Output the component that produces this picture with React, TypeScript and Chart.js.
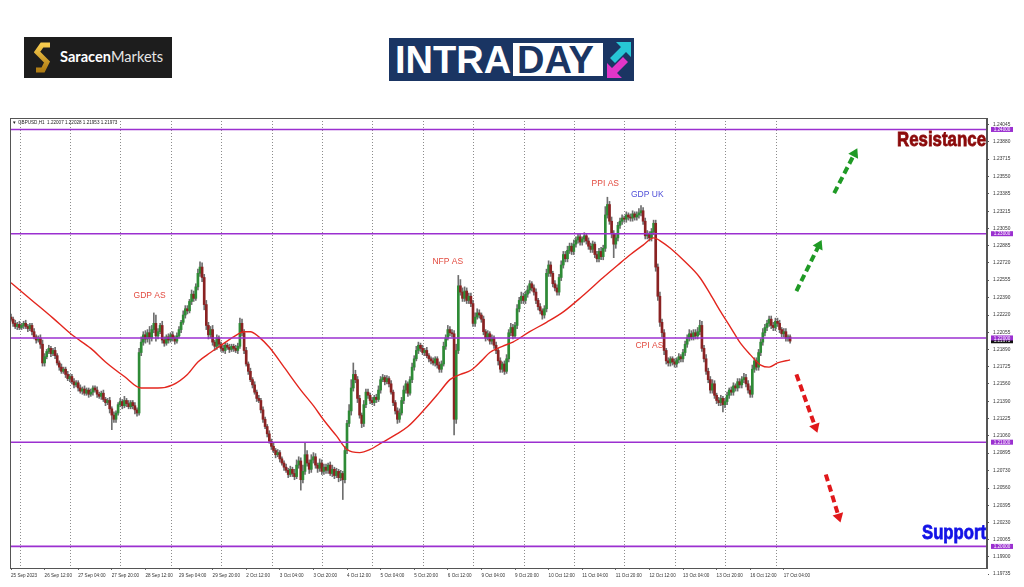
import React, { useEffect, useRef } from "react";
import { Chart, registerables } from "chart.js";
Chart.register(...registerables);

// ---------- DATA ----------
// prices are in pips above 1.2000 (e.g. 215 => 1.2215), H1 bars of GBPUSD
const firstOpen = 220;
const closes = [
  218, 214, 211, 213, 210, 212, 214, 211, 209, 212,
  206, 201, 198, 200, 194, 176, 182, 187, 190, 185,
  188, 183, 176, 172, 168, 170, 165, 161, 163, 158,
  155, 157, 152, 149, 151, 147, 150, 146, 148, 152,
  150, 146, 144, 147, 141, 138, 140, 132, 126, 122,
  128, 136, 139, 135, 140, 137, 134, 138, 135, 131,
  128, 186, 196, 203, 199, 205, 200, 208, 214, 202,
  206, 212, 198, 195, 201, 198, 203, 200, 197, 202,
  208, 215, 222, 228, 226, 235, 242, 238, 249, 262,
  268, 258, 232, 212, 203, 208, 196, 192, 200, 194,
  190, 188, 193, 191, 189, 192, 190, 188, 192, 214,
  205, 188, 175, 168, 160, 155, 148, 142, 140, 131,
  122, 115, 108, 101, 96, 92, 88, 90, 84, 80,
  76, 73, 69, 74, 70, 67, 78, 82, 64, 72,
  88, 80, 74, 83, 86, 78, 75, 80, 72, 76,
  73, 78, 70, 74, 68, 72, 66, 70, 64, 92,
  118, 130, 152, 165, 160, 142, 126, 118, 136, 148,
  145, 140, 138, 143, 141, 150, 160, 162, 158, 161,
  156, 148, 138, 130, 122, 128, 140, 150, 156, 147,
  160, 172, 180, 188, 193, 190, 186, 188, 183, 180,
  178, 176, 180, 174, 170, 175, 192, 200, 208, 205,
  204, 122, 188, 250, 244, 238, 245, 236, 240, 233,
  214, 220, 224, 222, 218, 206, 200, 204, 197, 200,
  193, 188, 178, 170, 175, 168, 180, 205, 210, 202,
  212, 228, 236, 240, 236, 242, 246, 252, 248, 244,
  236, 230, 226, 222, 228, 262, 270, 262, 252, 248,
  244, 258, 270, 280, 276, 284, 288, 283, 290, 294,
  297, 292, 295, 298, 293, 288, 285, 290, 280, 276,
  283, 278, 286, 318, 328, 312, 300, 290, 296, 308,
  312, 315, 314, 318, 316, 315, 319, 316, 318, 320,
  322, 312, 298, 300, 296, 302, 310, 268, 240, 215,
  205, 188, 178, 176, 180, 177, 175, 179, 182, 180,
  186, 194, 200, 204, 201, 205, 202, 206, 212, 190,
  180, 168, 160, 150, 156, 145, 140, 138, 142, 136,
  139, 145, 150, 148, 154, 152, 158, 155, 160, 162,
  156, 150, 146, 170, 178, 172, 186, 196, 205, 210,
  214, 218, 212, 210, 216, 214, 208, 204, 206, 200,
  201, 197,
];
const wickUp = [
  3, 2, 3, 2, 3, 2, 2, 3, 2, 2,
  2, 3, 2, 2, 3, 4, 3, 2, 3, 2,
  2, 3, 2, 2, 3, 2, 2, 3, 2, 2,
  3, 2, 2, 3, 2, 3, 2, 2, 3, 2,
  2, 3, 2, 2, 3, 2, 2, 3, 2, 3,
  2, 2, 3, 2, 4, 2, 3, 2, 2, 3,
  2, 4, 5, 3, 4, 3, 6, 4, 10, 8,
  3, 2, 4, 3, 2, 3, 2, 3, 2, 3,
  3, 2, 4, 3, 3, 2, 4, 3, 3, 4,
  5, 4, 3, 4, 3, 3, 4, 2, 3, 2,
  2, 3, 2, 2, 3, 2, 2, 3, 3, 5,
  4, 3, 3, 2, 3, 2, 3, 2, 3, 2,
  3, 2, 2, 3, 2, 3, 2, 3, 2, 2,
  2, 3, 2, 3, 2, 4, 5, 4, 3, 6,
  11, 4, 3, 5, 4, 3, 2, 4, 3, 3,
  3, 2, 3, 4, 2, 3, 2, 3, 2, 4,
  3, 6, 8, 11, 4, 3, 3, 2, 4, 3,
  3, 2, 3, 2, 3, 4, 3, 3, 2, 3,
  2, 3, 2, 2, 3, 4, 3, 4, 3, 2,
  3, 4, 3, 4, 3, 2, 3, 2, 3, 2,
  2, 3, 2, 2, 3, 3, 4, 3, 4, 3,
  3, 3, 6, 10, 6, 4, 4, 3, 3, 3,
  3, 4, 4, 3, 2, 3, 2, 3, 2, 3,
  2, 3, 2, 3, 2, 3, 4, 3, 4, 3,
  3, 4, 3, 4, 3, 3, 4, 3, 2, 3,
  3, 2, 3, 2, 3, 4, 4, 3, 2, 3,
  3, 3, 4, 3, 3, 4, 3, 3, 4, 3,
  3, 3, 2, 3, 2, 3, 3, 3, 2, 3,
  3, 4, 3, 8, 7, 3, 4, 3, 4, 3,
  3, 3, 2, 3, 2, 3, 3, 2, 3, 4,
  5, 3, 3, 3, 2, 3, 3, 3, 3, 4,
  3, 3, 2, 3, 2, 2, 3, 2, 3, 2,
  3, 3, 3, 4, 3, 3, 3, 4, 5, 4,
  3, 4, 3, 3, 4, 3, 2, 3, 3, 2,
  3, 3, 2, 3, 3, 2, 3, 3, 3, 4,
  3, 3, 4, 4, 3, 3, 3, 3, 4, 3,
  3, 3, 3, 3, 3, 3, 3, 2, 3, 3,
  2, 2,
];
const wickDn = [
  2, 3, 2, 3, 2, 2, 3, 2, 3, 2,
  3, 2, 3, 2, 4, 3, 3, 2, 2, 3,
  2, 3, 2, 3, 2, 2, 3, 2, 3, 2,
  3, 2, 3, 2, 3, 2, 2, 3, 2, 3,
  2, 3, 2, 3, 2, 3, 2, 4, 14, 3,
  3, 2, 2, 3, 2, 3, 2, 2, 3, 4,
  3, 2, 3, 3, 4, 3, 6, 3, 3, 5,
  3, 2, 3, 3, 2, 3, 2, 3, 3, 2,
  2, 3, 2, 3, 3, 2, 3, 3, 2, 3,
  3, 4, 5, 4, 4, 3, 3, 4, 3, 3,
  3, 2, 3, 2, 3, 2, 3, 2, 3, 2,
  3, 3, 2, 3, 2, 3, 2, 3, 2, 3,
  3, 2, 3, 2, 3, 2, 3, 2, 3, 2,
  3, 2, 3, 2, 3, 3, 2, 3, 10, 3,
  3, 3, 4, 3, 3, 3, 4, 3, 3, 3,
  3, 3, 2, 3, 3, 2, 4, 3, 19, 3,
  3, 3, 4, 3, 3, 4, 3, 4, 3, 3,
  3, 3, 2, 3, 3, 2, 3, 2, 3, 2,
  3, 2, 3, 3, 4, 3, 2, 3, 3, 3,
  2, 3, 3, 2, 3, 3, 2, 3, 2, 3,
  3, 2, 3, 3, 3, 3, 2, 3, 2, 3,
  3, 15, 4, 3, 3, 3, 3, 3, 3, 3,
  3, 3, 2, 3, 3, 3, 3, 2, 3, 3,
  3, 3, 4, 3, 3, 3, 2, 3, 3, 3,
  2, 3, 3, 3, 3, 3, 3, 3, 3, 3,
  3, 3, 3, 4, 3, 3, 3, 3, 3, 3,
  3, 3, 3, 3, 3, 3, 3, 3, 3, 3,
  3, 3, 3, 3, 3, 3, 3, 3, 3, 3,
  3, 3, 3, 3, 3, 3, 4, 13, 4, 3,
  3, 3, 3, 3, 3, 3, 3, 3, 3, 3,
  3, 3, 3, 3, 3, 3, 3, 4, 4, 4,
  4, 4, 3, 3, 3, 3, 3, 3, 3, 3,
  3, 3, 3, 3, 3, 3, 3, 3, 3, 3,
  3, 3, 3, 3, 3, 3, 3, 3, 3, 7,
  3, 3, 3, 3, 3, 3, 3, 3, 3, 3,
  3, 3, 3, 3, 3, 3, 3, 3, 3, 3,
  3, 3, 3, 3, 3, 3, 3, 3, 3, 3,
  3, 2,
];
// moving average (bar index, pips above 1.2000)
const maBars = [0, 10, 20, 29, 38, 45, 54, 62, 70, 77, 84, 89, 95, 100, 106, 111, 114, 118, 123, 130, 138, 144, 149, 155, 160, 166, 171, 177, 183, 189, 198, 204, 209, 214, 219, 224, 228, 234, 239, 247, 255, 263, 272, 282, 289, 295, 301, 306, 310, 314, 321, 328, 333, 338, 343, 347, 352, 357, 361, 365, 371];
const maVals = [253, 236, 219, 203, 190, 177, 163, 152, 152, 155, 165, 177, 186, 193, 201, 206, 206, 201, 191, 172, 150, 135, 121, 106, 93, 90, 93, 100, 107, 115, 134, 148, 160, 165, 169, 178, 186, 192, 196, 206, 215, 225, 240, 258, 270, 280, 289, 296, 292, 286, 273, 258, 242, 225, 209, 196, 184, 174, 172, 176, 179];

const levels = [1.24, 1.23, 1.22, 1.21, 1.2];
const levelLabels = ["1.24000", "1.23000", "1.22000", "1.21000", "1.20000"];
const lastPrice = 1.21973;
const lastPriceLabel = "1.21973";
const headerText = "GBPUSD,H1  1.22007 1.22028 1.21953 1.21973";

const yTickLabels = ["1.24045", "1.23880", "1.23715", "1.23550", "1.23385", "1.23215", "1.23050", "1.22885", "1.22720", "1.22555", "1.22390", "1.22220", "1.22055", "1.21890", "1.21725", "1.21560", "1.21390", "1.21225", "1.21060", "1.20895", "1.20730", "1.20560", "1.20395", "1.20230", "1.20065", "1.19900", "1.19735"];
const xTickLabels = ["25 Sep 2023", "26 Sep 12:00", "27 Sep 04:00", "27 Sep 20:00", "28 Sep 12:00", "29 Sep 04:00", "29 Sep 20:00", "2 Oct 12:00", "3 Oct 04:00", "3 Oct 20:00", "4 Oct 12:00", "5 Oct 04:00", "5 Oct 20:00", "6 Oct 12:00", "9 Oct 04:00", "9 Oct 20:00", "10 Oct 12:00", "11 Oct 04:00", "11 Oct 20:00", "12 Oct 12:00", "13 Oct 04:00", "13 Oct 20:00", "16 Oct 12:00", "17 Oct 04:00"];
const barsPerLabel = 16;
const firstDayBar = 4.3;
const barsPerDay = 24;
const dayLines = 16;

const eventNames = ["GDP AS", "NFP AS", "PPI AS", "GDP UK", "CPI AS"];
const eventBars = [66, 208, 283, 303, 304];
const eventPrices = [1.2241, 1.2273, 1.2348, 1.2337, 1.2193];

const arrowFromBars = [392, 374, 374, 388];
const arrowFromPrices = [1.2339, 1.2245, 1.2165, 1.2069];
const arrowToBars = [403, 386, 384, 395];
const arrowToPrices = [1.2382, 1.2294, 1.2109, 1.2023];
const arrowUp = [true, true, false, false];

const zoneNames = ["Resistance", "Support"];
const zonePrices = [1.239, 1.2013];

// axis ranges
const xMin = -0.48;
const xMax = 464.76;
const yMin = 1.19793;
const yMax = 1.2411;

// ---------- STYLE ----------
const BULL = "#2e8b36";
const BEAR = "#8a2222";
const WICK = "#6e6e6e";
const LEVEL = "#9b30d0";
const MA = "#e3261e";
const eventColors = ["#e24a3f", "#e24a3f", "#e24a3f", "#4f4fd8", "#e24a3f"];
const zoneColors = ["#8b0a0a", "#1212e6"];
const zoneWidths = [89, 64];
const FONT = '"Liberation Sans", Arial, sans-serif';

const P = (v: number) => 1.2 + v / 10000;
const opens = closes.map((c, i) => (i === 0 ? firstOpen : closes[i - 1]));
const highs = closes.map((c, i) => Math.max(opens[i], c) + wickUp[i]);
const lows = closes.map((c, i) => Math.min(opens[i], c) - wickDn[i]);
const yTickVals = yTickLabels.map((s) => parseFloat(s));
const xTickBars = xTickLabels.map((_, i) => i * barsPerLabel);
const gridBars = Array.from({ length: dayLines }, (_, k) => firstDayBar + k * barsPerDay);

function drawArrow(ctx: CanvasRenderingContext2D, x0: number, y0: number, x1: number, y1: number, color: string) {
  const ang = Math.atan2(y1 - y0, x1 - x0);
  const head = 9;
  const sx = x1 - Math.cos(ang) * head * 0.7;
  const sy = y1 - Math.sin(ang) * head * 0.7;
  ctx.save();
  ctx.strokeStyle = color;
  ctx.fillStyle = color;
  ctx.lineWidth = 4;
  ctx.setLineDash([7, 4]);
  ctx.beginPath();
  ctx.moveTo(x0, y0);
  ctx.lineTo(sx, sy);
  ctx.stroke();
  ctx.setLineDash([]);
  const bx = x1 - Math.cos(ang) * head;
  const by = y1 - Math.sin(ang) * head;
  const px = -Math.sin(ang) * 5.5;
  const py = Math.cos(ang) * 5.5;
  ctx.beginPath();
  ctx.moveTo(x1, y1);
  ctx.lineTo(bx + px, by + py);
  ctx.lineTo(bx - px, by - py);
  ctx.closePath();
  ctx.fill();
  ctx.restore();
}

const overlayPlugin = {
  id: "overlay",
  afterDatasetsDraw(chart: any) {
    const { ctx, chartArea: a, scales } = chart;
    const x = scales.x;
    const y = scales.y;
    ctx.save();
    ctx.textAlign = "center";
    ctx.textBaseline = "middle";
    ctx.font = `8.5px ${FONT}`;
    eventNames.forEach((t, i) => {
      ctx.fillStyle = eventColors[i];
      ctx.fillText(t, x.getPixelForValue(eventBars[i]), y.getPixelForValue(eventPrices[i]));
    });
    arrowFromBars.forEach((b, i) => {
      drawArrow(
        ctx,
        x.getPixelForValue(b),
        y.getPixelForValue(arrowFromPrices[i]),
        x.getPixelForValue(arrowToBars[i]),
        y.getPixelForValue(arrowToPrices[i]),
        arrowUp[i] ? "#1f9a25" : "#e0181b"
      );
    });
    zoneNames.forEach((t, i) => {
      ctx.save();
      ctx.font = `bold 21px ${FONT}`;
      const w = ctx.measureText(t).width;
      const s = zoneWidths[i] / w;
      ctx.translate(a.right - 1, y.getPixelForValue(zonePrices[i]));
      ctx.scale(s, 1);
      ctx.textAlign = "right";
      ctx.fillStyle = zoneColors[i];
      ctx.strokeStyle = zoneColors[i];
      ctx.lineWidth = 0.8;
      ctx.fillText(t, 0, 0);
      ctx.strokeText(t, 0, 0);
      ctx.restore();
    });
    ctx.restore();
  },
  afterDraw(chart: any) {
    const { ctx, chartArea: a, scales } = chart;
    const y = scales.y;
    ctx.save();
    ctx.strokeStyle = "#555";
    ctx.lineWidth = 1;
    ctx.strokeRect(a.left + 0.5, a.top + 0.5, a.right - a.left - 1, a.bottom - a.top);
    // header
    ctx.fillStyle = "#222";
    ctx.font = `4.6px ${FONT}`;
    ctx.textAlign = "left";
    ctx.textBaseline = "middle";
    ctx.fillText("\u25BC", a.left + 2, a.top + 5);
    ctx.fillText(headerText, a.left + 8, a.top + 5);
    // price boxes
    const bx = a.right + 4;
    const yp = y.getPixelForValue(lastPrice);
    ctx.fillStyle = "#111";
    ctx.fillRect(bx, yp - 2.5, 22, 5);
    ctx.fillStyle = "#fff";
    ctx.textAlign = "center";
    ctx.fillText(lastPriceLabel, bx + 11, yp + 0.3);
    levels.forEach((lv, i) => {
      const py = y.getPixelForValue(lv);
      ctx.fillStyle = LEVEL;
      ctx.fillRect(bx, py - 2.5, 22, 5);
      ctx.fillStyle = "#fff";
      ctx.fillText(levelLabels[i], bx + 11, py + 0.3);
    });
    ctx.restore();
  },
};

export default function App() {
  const ref = useRef<HTMLCanvasElement>(null);
  useEffect(() => {
    const datasets: any[] = [];
    levels.forEach((lv) => {
      datasets.push({
        type: "line",
        data: [
          { x: xMin, y: lv },
          { x: xMax, y: lv },
        ],
        borderColor: LEVEL,
        borderWidth: 1.6,
        pointRadius: 0,
        order: 0,
        xAxisID: "x",
        yAxisID: "y",
      });
    });
    datasets.push({
      type: "line",
      data: maBars.map((b, i) => ({ x: b, y: P(maVals[i]) })),
      borderColor: MA,
      borderWidth: 1.4,
      pointRadius: 0,
      cubicInterpolationMode: "monotone",
      order: 1,
      xAxisID: "x",
      yAxisID: "y",
    });
    datasets.push({
      type: "bar",
      data: closes.map((c, i) => ({ x: i, y: [P(opens[i]), P(c)] })),
      backgroundColor: closes.map((c, i) => (c >= opens[i] ? BULL : BEAR)),
      barThickness: 2,
      minBarLength: 1,
      grouped: false,
      borderWidth: 0,
      order: 2,
      xAxisID: "x",
      yAxisID: "y",
    });
    datasets.push({
      type: "bar",
      data: closes.map((c, i) => ({ x: i, y: [P(lows[i]), P(highs[i])] })),
      backgroundColor: WICK,
      barThickness: 1,
      grouped: false,
      borderWidth: 0,
      order: 3,
      xAxisID: "x",
      yAxisID: "y",
    });

    const chart = new Chart(ref.current as HTMLCanvasElement, {
      type: "bar",
      data: { datasets },
      options: {
        responsive: false,
        animation: false,
        events: [],
        layout: { padding: { top: 8, left: 10, right: 0, bottom: 0 } },
        plugins: { legend: { display: false }, tooltip: { enabled: false } },
        scales: {
          x: {
            type: "linear",
            min: xMin,
            max: xMax,
            offset: false,
            position: "bottom",
            afterBuildTicks: (s: any) => {
              s.ticks = xTickBars.map((v) => ({ value: v }));
            },
            afterFit: (s: any) => {
              s.height = 19;
            },
            ticks: {
              align: "start",
              maxRotation: 0,
              minRotation: 0,
              autoSkip: false,
              font: { size: 4.6, family: FONT },
              color: "#333",
              padding: 3,
              callback: (_v: any, i: number) => xTickLabels[i],
            },
            grid: { offset: false, drawOnChartArea: false, drawTicks: true, tickLength: 2, color: "#666" },
            border: { display: true, color: "#555" },
          },
          xg: {
            type: "linear",
            min: xMin,
            max: xMax,
            offset: false,
            position: "bottom",
            afterBuildTicks: (s: any) => {
              s.ticks = gridBars.map((v) => ({ value: v }));
            },
            afterFit: (s: any) => {
              s.height = 0;
            },
            ticks: { display: false },
            grid: { offset: false, drawTicks: false, color: "#8c8c8c", lineWidth: 1 },
            border: { display: false, dash: [1, 2] },
          },
          y: {
            type: "linear",
            position: "right",
            min: yMin,
            max: yMax,
            afterBuildTicks: (s: any) => {
              s.ticks = yTickVals.map((v) => ({ value: v }));
            },
            afterFit: (s: any) => {
              s.width = 37;
            },
            ticks: {
              font: { size: 4.8, family: FONT },
              color: "#333",
              padding: 4,
              callback: (_v: any, i: number) => yTickLabels[i],
            },
            grid: { drawOnChartArea: false, tickLength: 2, color: "#555" },
            border: { display: true, color: "#555" },
          },
        },
      } as any,
      plugins: [overlayPlugin],
    });
    return () => chart.destroy();
  }, []);

  return (
    <div style={{ position: "absolute", left: 0, top: 0, width: 1024, height: 587, background: "#fff", overflow: "hidden" }}>
      <div style={{ position: "absolute", left: 24, top: 37, width: 148, height: 41, background: "#1d1d1d" }}>
        <svg width="20" height="32" style={{ position: "absolute", left: 10, top: 5 }}>
          <defs>
            <linearGradient id="gold" x1="0" y1="0" x2="0" y2="1">
              <stop offset="0" stopColor="#f7cb4d" />
              <stop offset="1" stopColor="#b07d14" />
            </linearGradient>
          </defs>
          <path d="M16 3 L8 3 L3 10 L13 20 L9 28 L2 28" stroke="url(#gold)" strokeWidth="5" fill="none" strokeLinejoin="miter" />
        </svg>
        <div style={{ position: "absolute", left: 36, top: 12, fontFamily: "Lato, 'Open Sans', sans-serif", fontSize: 14.6, color: "#fff", whiteSpace: "nowrap", lineHeight: "16px" }}>
          <span style={{ fontWeight: 700 }}>Saracen</span>
          <span style={{ fontWeight: 400, color: "#e6e6e6" }}>Markets</span>
        </div>
      </div>
      <div style={{ position: "absolute", left: 389, top: 38, width: 245, height: 43, background: "#1a3563" }}>
        <div style={{ position: "absolute", left: 6, top: 1, fontFamily: FONT, fontWeight: 700, fontSize: 38, color: "#fff", lineHeight: "42px" }}>INTRA</div>
        <div style={{ position: "absolute", left: 124, top: 5, width: 90, height: 33, background: "#fff" }}>
          <div style={{ position: "absolute", left: 4, top: -4, fontFamily: FONT, fontWeight: 700, fontSize: 38, color: "#1a3563", lineHeight: "42px" }}>DAY</div>
        </div>
        <svg width="28" height="40" style={{ position: "absolute", left: 216, top: 2 }}>
          <polygon points="11,2 26,2 26,17 21,12 10,23 5,18 16,7" fill="#27c6d6" />
          <polygon points="17,38 2,38 2,23 7,28 18,17 23,22 12,33" fill="#e236c8" />
        </svg>
      </div>
      <canvas ref={ref} width={1024} height={477} style={{ position: "absolute", left: 0, top: 110, width: 1024, height: 477 }} />
    </div>
  );
}
